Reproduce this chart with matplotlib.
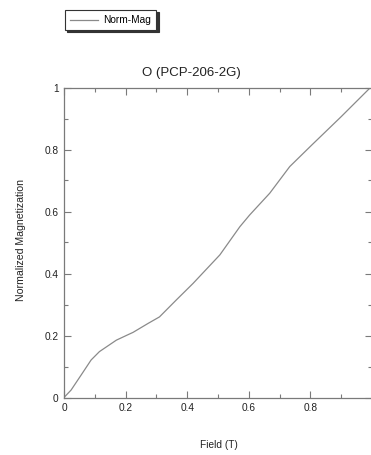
import matplotlib
matplotlib.use("Agg")
import matplotlib.pyplot as plt
from matplotlib.ticker import MultipleLocator

plt.rcParams['font.family'] = ['Liberation Sans', 'DejaVu Sans']

field = [0, 0.023, 0.056, 0.088, 0.115, 0.17, 0.213, 0.224, 0.273, 0.31, 0.343,
         0.365, 0.419, 0.506, 0.571, 0.603, 0.668, 0.733, 0.804, 0.9, 0.995]
norm_mag = [0, 0.024, 0.073, 0.121, 0.148, 0.185, 0.205, 0.21, 0.239, 0.26, 0.293,
            0.315, 0.368, 0.46, 0.551, 0.589, 0.659, 0.745, 0.814, 0.906, 1.0]
series_name = "Norm-Mag"
title = "O (PCP-206-2G)"
xlabel = "Field (T)"
ylabel = "Normalized Magnetization"
major_ticks = [0, 0.2, 0.4, 0.6, 0.8]
major_labels = ["0", "0.2", "0.4", "0.6", "0.8"]
y_ticks = [0, 0.2, 0.4, 0.6, 0.8, 1.0]
y_labels = ["0", "0.2", "0.4", "0.6", "0.8", "1"]

W, H = 371, 455
fig = plt.figure(figsize=(W / 100, H / 100), dpi=100)
ax = fig.add_axes([64 / W, (H - 397.5) / H, 308 / W, 310 / H])

line_color = "#8a8a8a"
spine_color = "#7a7a7a"
ln, = ax.plot(field, norm_mag, color=line_color, lw=0.9)

ax.set_xlim(0, 1)
ax.set_ylim(0, 1)
ax.set_xticks(major_ticks)
ax.set_xticklabels(major_labels)
ax.set_yticks(y_ticks)
ax.set_yticklabels(y_labels)
ax.xaxis.set_minor_locator(MultipleLocator(0.1))
ax.yaxis.set_minor_locator(MultipleLocator(0.1))
ax.tick_params(which='both', direction='in', top=True, right=True,
               color=spine_color, width=0.8, labelsize=7.3, labelcolor="#222222")
ax.tick_params(which='major', length=5, pad=4)
ax.tick_params(which='minor', length=3)
for s in ax.spines.values():
    s.set_color(spine_color)
    s.set_linewidth(0.9)

fig.text(191 / W, 1 - 73 / H, title, ha='center', va='center', fontsize=9.5, color="#222222")
fig.text(219 / W, 1 - 445 / H, xlabel, ha='center', va='center', fontsize=7.3, color="#222222")
fig.text(21 / W, 1 - 240 / H, ylabel, ha='center', va='center', rotation=90,
         fontsize=7.6, color="#222222")

leg = fig.legend([ln], [series_name], loc='upper left',
                 bbox_to_anchor=(65 / W, 1 - 10 / H), fontsize=7.3,
                 frameon=True, fancybox=False,
                 shadow={'color': '#333333', 'alpha': 1.0, 'ox': 1.5, 'oy': -1.5},
                 handlelength=2.8, borderpad=0.5, handletextpad=0.5, borderaxespad=0)
leg.get_frame().set_edgecolor("#333333")
leg.get_frame().set_linewidth(0.8)

fig.savefig("out.png", dpi=100)
